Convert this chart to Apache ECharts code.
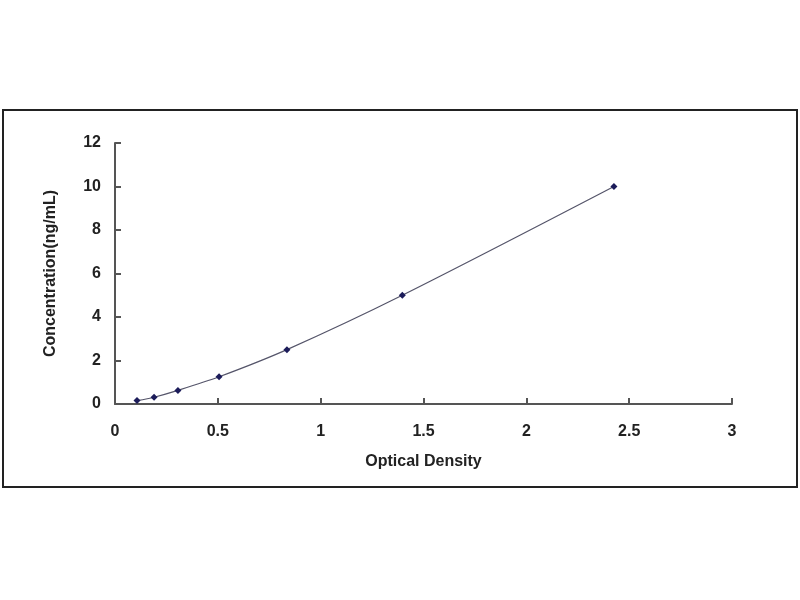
<!DOCTYPE html>
<html>
<head>
<meta charset="utf-8">
<script src="https://cdn.jsdelivr.net/npm/echarts@6/dist/echarts.min.js"></script>
<style>html,body{margin:0;padding:0;background:#fff}#c{width:800px;height:600px}</style>
</head>
<body>
<div id="c"></div>
<script>
const opticalDensity = [0.107, 0.19, 0.306, 0.506, 0.836, 1.397, 2.426];
const concentration = [0.156, 0.312, 0.625, 1.25, 2.5, 5, 10];
const xTitle = 'Optical Density';
const yTitle = 'Concentration(ng/mL)';

const chart = echarts.init(document.getElementById('c'));
const pts = opticalDensity.map((x, i) => [x, concentration[i]]);
const axisText = {color: '#222', fontFamily: 'Liberation Sans, Arial, sans-serif', fontWeight: 'bold', fontSize: 16};
chart.setOption({
  animation: false,
  backgroundColor: '#fff',
  grid: {left: 115, right: 68, top: 143, bottom: 196},
  graphic: [{
    type: 'rect', shape: {x: 3, y: 110, width: 794, height: 377},
    style: {fill: 'none', stroke: '#222', lineWidth: 2}, z: -1
  }],
  xAxis: {
    type: 'value', min: 0, max: 3, interval: 0.5,
    name: xTitle, nameLocation: 'middle', nameGap: 50,
    nameTextStyle: Object.assign({}, axisText, {fontSize: 16}),
    axisLine: {show: true, lineStyle: {color: '#555', width: 2}},
    axisTick: {show: true, inside: true, length: 6, lineStyle: {color: '#555', width: 2}},
    axisLabel: Object.assign({}, axisText, {margin: 20}),
    splitLine: {show: false}
  },
  yAxis: {
    type: 'value', min: 0, max: 12, interval: 2,
    name: yTitle, nameLocation: 'middle', nameGap: 56,
    nameTextStyle: Object.assign({}, axisText, {fontSize: 16}),
    axisLine: {show: true, lineStyle: {color: '#555', width: 2}},
    axisTick: {show: true, inside: true, length: 6, lineStyle: {color: '#555', width: 2}},
    axisLabel: Object.assign({}, axisText, {margin: 14}),
    splitLine: {show: false}
  },
  series: [{
    type: 'line', data: pts, smooth: 0.3,
    symbol: 'diamond', symbolSize: 7,
    itemStyle: {color: '#1c1c5a'},
    lineStyle: {color: '#55556a', width: 1.2}
  }]
});
</script>
</body>
</html>
